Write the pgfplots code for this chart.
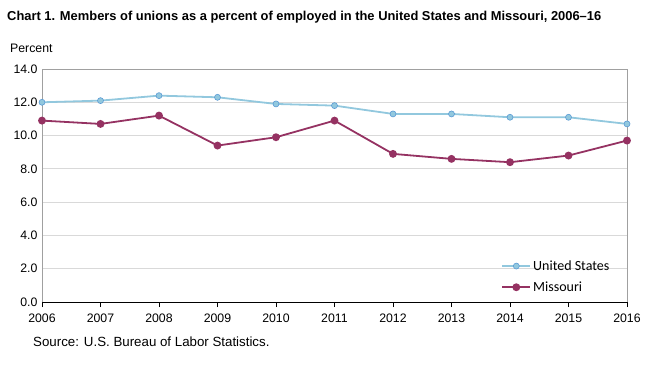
\documentclass[border=0pt]{standalone}
\usepackage{pgfplots}
\pgfplotsset{compat=1.18}
\usepackage{fontspec}
\setmainfont{Liberation Sans}
\newfontfamily\legfont{Carlito}
\definecolor{usblue}{RGB}{146,200,222}
\definecolor{usedge}{RGB}{91,155,213}
\definecolor{mored}{RGB}{149,50,98}
\definecolor{gridgray}{RGB}{217,217,217}
\definecolor{axgray}{RGB}{160,160,160}
\begin{document}
\begin{tikzpicture}
\useasboundingbox (-42pt,-68pt) rectangle (608pt,302pt);
\begin{axis}[
  at={(0pt,0pt)}, anchor=south west,
  scale only axis, width=585pt, height=233pt,
  xmin=2006, xmax=2016, ymin=0, ymax=14,
  xtick={2006,...,2016}, ytick={0,2,...,14},
  xticklabel style={/pgf/number format/1000 sep=, yshift=-3pt},
  yticklabel style={/pgf/number format/fixed, /pgf/number format/fixed zerofill, /pgf/number format/precision=1, xshift=-1pt},
  /pgf/number format/assume math mode=true,
  tick label style={font=\fontsize{12.3}{14}\selectfont},
  ymajorgrids, major grid style={gridgray, line width=0.8pt},
  axis line style={axgray, line width=0.8pt},
  axis x line*=bottom,
  x axis line style={black},
  xtick style={black, line width=0.6pt},
  major tick length=5pt,
  xtick align=outside,
  ytick style={draw=none},
  legend style={at={(0.785,0.03)}, anchor=south west, draw=none, fill=none,
    font=\legfont\fontsize{14}{16}\selectfont, row sep=6pt, inner sep=0pt},
  legend cell align=left,
  legend image code/.code={
    \draw[#1] (0pt,0pt) -- (28pt,0pt);
    \draw[#1, mark repeat=1] plot coordinates {(14pt,0pt)};
  },
  clip=false,
]
\draw[axgray, line width=0.8pt] (rel axis cs:0,0) -- (rel axis cs:0,1) -- (rel axis cs:1,1) -- (rel axis cs:1,0);
\addplot[usblue, line width=1.8pt, mark=*, mark size=3pt,
  mark options={fill=usblue, draw=usedge, line width=0.6pt}]
  coordinates {(2006,12.0) (2007,12.1) (2008,12.4) (2009,12.3) (2010,11.9) (2011,11.8) (2012,11.3) (2013,11.3) (2014,11.1) (2015,11.1) (2016,10.7)};
\addlegendentry{United States}
\addplot[mored, line width=1.8pt, mark=*, mark size=3pt,
  mark options={fill=mored, draw=mored}]
  coordinates {(2006,10.9) (2007,10.7) (2008,11.2) (2009,9.4) (2010,9.9) (2011,10.9) (2012,8.9) (2013,8.6) (2014,8.4) (2015,8.8) (2016,9.7)};
\addlegendentry{Missouri}
\end{axis}
\node[anchor=west, font=\bfseries\fontsize{12.9}{15}\selectfont, inner sep=0pt] at (-35pt,285pt) {Chart 1. Members of unions as a percent of employed in the United States and Missouri, 2006--16};
\node[anchor=west, font=\fontsize{12.3}{14}\selectfont, inner sep=0pt] at (-32pt,254pt) {Percent};
\node[anchor=west, font=\fontsize{13.3}{15}\selectfont, inner sep=0pt] at (-9pt,-40pt) {Source: U.S. Bureau of Labor Statistics.};
\end{tikzpicture}
\end{document}
